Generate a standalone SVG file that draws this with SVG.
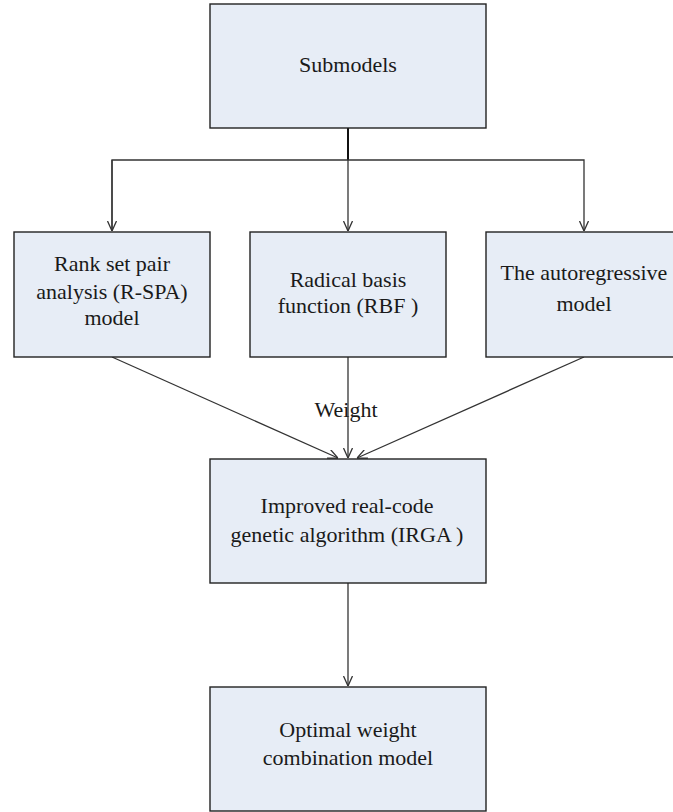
<svg xmlns="http://www.w3.org/2000/svg" width="673" height="812" viewBox="0 0 673 812" font-family="'Liberation Serif', 'Times New Roman', serif">
<defs>
<style>
.box{fill:#e7edf6;stroke:#222;stroke-width:1.4}
.t{font-family:'Liberation Serif','Times New Roman',serif;font-size:22px;fill:#1a1a1a;text-anchor:middle}
.c{fill:none;stroke:#333;stroke-width:1.3}
</style>
<marker id="ah" viewBox="0 0 10 10" refX="10" refY="5" markerWidth="10" markerHeight="10" markerUnits="userSpaceOnUse" orient="auto">
<path d="M0,0.5 L10,5 L0,9.5" fill="none" stroke="#333" stroke-width="1.3"/>
</marker>
</defs>
<rect width="673" height="812" fill="#fff"/>
<g id="connectors">
<line x1="348" y1="128" x2="348" y2="160" stroke="#111" stroke-width="2"/>
<polyline class="c" points="112,231 112,160 584,160 584,231" marker-end="url(#ah)"/>
<line class="c" x1="112" y1="160" x2="112" y2="231" marker-end="url(#ah)"/>
<line class="c" x1="348" y1="160" x2="348" y2="231" marker-end="url(#ah)"/>
<line class="c" x1="112" y1="357" x2="338" y2="458" marker-end="url(#ah)"/>
<line class="c" x1="348" y1="357" x2="348" y2="458" marker-end="url(#ah)"/>
<line class="c" x1="584" y1="357" x2="357" y2="458" marker-end="url(#ah)"/>
<line class="c" x1="348" y1="583" x2="348" y2="686" marker-end="url(#ah)"/>
<text class="t" x="346" y="417">Weight</text>
</g>
<g id="submodels">
<rect class="box" x="210" y="4" width="276" height="124"/>
<text class="t" x="348" y="72">Submodels</text>
</g>
<g id="rspa">
<rect class="box" x="14" y="232" width="196" height="125"/>
<text class="t" x="112" y="271">Rank set pair</text>
<text class="t" x="112" y="299">analysis (R-SPA)</text>
<text class="t" x="112" y="325">model</text>
</g>
<g id="rbf">
<rect class="box" x="250" y="232" width="196" height="125"/>
<text class="t" x="348" y="287">Radical basis</text>
<text class="t" x="348" y="313">function (RBF )</text>
</g>
<g id="ar">
<rect class="box" x="486" y="232" width="196" height="125"/>
<text class="t" x="584" y="280">The autoregressive</text>
<text class="t" x="584" y="311">model</text>
</g>
<g id="irga">
<rect class="box" x="210" y="459" width="276" height="124"/>
<text class="t" x="347" y="513">Improved real-code</text>
<text class="t" x="347" y="542">genetic algorithm (IRGA )</text>
</g>
<g id="optimal">
<rect class="box" x="210" y="687" width="276" height="124"/>
<text class="t" x="348" y="737">Optimal weight</text>
<text class="t" x="348" y="765">combination model</text>
</g>
</svg>
